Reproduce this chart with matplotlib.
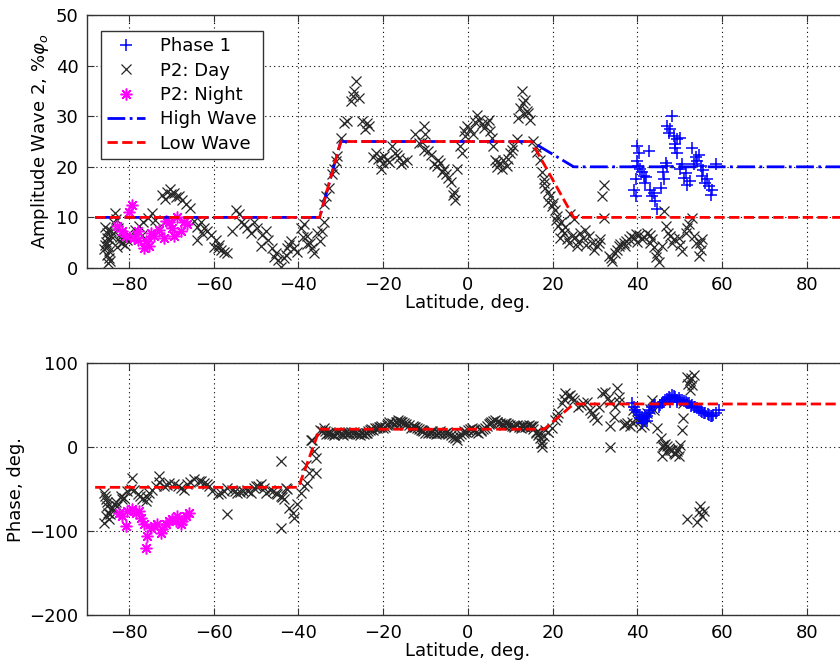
import numpy as np
import matplotlib.pyplot as plt

plt.rcParams['font.family'] = ['DejaVu Sans']
plt.rcParams['mathtext.fontset'] = 'dejavusans'

# ---- amplitude, P2 day-side fits (lat, %)
day_amp = [
    (-85.6, 8.2), (-85.3, 7.0), (-85.1, 6.0), (-85.4, 5.2), (-85.0, 4.3), (-84.8, 3.4),
    (-85.2, 2.6), (-84.7, 2.0), (-84.5, 1.4), (-85.8, 3.8), (-84.6, 5.6), (-84.3, 7.4),
    (-85.0, 7.6), (-84.9, 1.0), (-85.6, 4.6), (-84.2, 6.4), (-83.6, 8.8), (-82.4, 5.4),
    (-81.3, 6.0),
    (-83.2, 10.8), (-83.0, 9.6), (-82.6, 8.0), (-82.2, 6.2), (-81.6, 5.0), (-81.0, 4.6),
    (-80.5, 5.6), (-82.8, 4.2), (-81.9, 7.0), (-80.2, 6.8), (-79.8, 6.2),
    (-78.6, 7.6), (-77.6, 8.4), (-76.6, 9.0), (-75.6, 9.8), (-74.5, 10.8), (-73.8, 9.4),
    (-73.2, 8.0), (-77.0, 6.6),
    (-72.2, 14.4), (-71.4, 13.6), (-71.0, 15.0), (-70.4, 15.6), (-70.0, 14.6), (-69.4, 14.8),
    (-68.9, 14.0), (-68.1, 14.2), (-67.4, 13.4), (-66.6, 12.6), (-65.6, 11.8),
    (-64.7, 9.3), (-63.9, 5.6), (-63.1, 9.0), (-62.2, 8.0), (-61.5, 7.3), (-60.7, 6.6),
    (-59.5, 5.6), (-59.1, 3.9), (-58.8, 4.6), (-57.6, 3.2), (-56.8, 2.9),
    (-64.0, 8.2), (-62.8, 7.0), (-60.0, 4.2), (-58.2, 3.6),
    (-55.6, 7.3), (-54.8, 11.4), (-54.0, 10.7), (-53.6, 9.0), (-52.8, 8.6), (-52.1, 8.0),
    (-51.3, 7.0), (-50.5, 9.0), (-49.7, 8.0), (-48.9, 4.3), (-48.5, 6.6), (-47.7, 7.3),
    (-47.3, 5.6),
    (-46.2, 3.9), (-45.4, 2.9), (-44.8, 1.6), (-44.2, 0.2), (-43.4, 1.9), (-42.6, 3.9),
    (-41.8, 5.3), (-41.0, 3.9), (-40.3, 3.2), (-39.5, 8.0), (-38.7, 8.6), (-37.9, 6.3),
    (-37.2, 5.0), (-36.7, 3.9), (-36.3, 2.9), (-35.5, 7.0), (-34.4, 7.3), (-34.0, 9.0),
    (-45.8, 2.2), (-43.0, 2.6), (-42.2, 4.6), (-39.0, 6.2), (-38.0, 4.8), (-35.0, 5.4),
    (-34.0, 12.6), (-33.4, 14.2), (-32.8, 15.9), (-32.0, 18.5), (-31.6, 19.6), (-31.2, 21.1),
    (-30.8, 22.1), (-30.0, 25.7),
    (-29.3, 28.7), (-28.5, 29.0), (-27.7, 33.0), (-27.2, 34.0), (-26.9, 34.9), (-26.5, 36.9),
    (-25.7, 33.6), (-24.9, 29.0), (-24.2, 27.4), (-23.8, 28.7), (-23.4, 28.0),
    (-21.8, 22.8), (-21.2, 21.6), (-20.6, 21.8), (-20.6, 19.5), (-19.8, 22.1), (-19.1, 21.4),
    (-17.9, 24.1), (-17.2, 22.8), (-16.7, 22.4), (-15.9, 20.5), (-15.2, 21.0), (-14.4, 21.4),
    (-22.4, 22.0), (-20.0, 20.8), (-18.5, 21.0), (-16.2, 21.8),
    (-12.4, 26.4), (-11.6, 24.7), (-10.8, 25.0), (-10.4, 28.0), (-10.0, 26.4), (-10.4, 23.4),
    (-9.3, 23.1), (-8.6, 22.4), (-8.1, 20.5), (-7.3, 20.1), (-6.5, 20.8), (-6.0, 19.0),
    (-5.7, 19.5), (-4.6, 17.8), (-3.4, 14.5), (-3.2, 15.0), (-2.6, 19.5),
    (-7.0, 21.4), (-5.2, 18.6), (-4.0, 17.0), (-3.0, 13.5),
    (-1.8, 24.1), (-1.4, 22.8), (-1.0, 27.0), (-0.2, 28.0), (0.5, 27.4), (1.2, 26.5),
    (2.1, 30.3), (2.7, 29.2), (3.3, 28.4), (4.5, 28.7), (4.9, 29.3), (5.6, 25.7),
    (6.0, 24.1), (6.4, 21.4), (7.0, 20.0), (7.6, 20.8), (8.4, 21.4), (9.2, 20.1),
    (10.0, 22.8), (10.7, 24.1), (11.5, 25.4), (11.9, 29.7), (12.4, 31.6), (12.7, 34.9),
    (13.1, 32.6), (13.5, 33.3), (13.9, 31.0), (14.3, 30.7), (14.7, 29.3),
    (-0.6, 26.0), (1.6, 28.8), (3.8, 27.6), (5.2, 27.0), (6.8, 21.0), (8.0, 19.6),
    (9.6, 21.6), (10.4, 23.4), (13.3, 30.4),
    (15.5, 25.1), (16.3, 23.0), (17.1, 21.4), (17.5, 19.0), (17.9, 17.5), (18.3, 15.9),
    (18.9, 15.0), (19.0, 13.0), (19.4, 14.2), (20.2, 12.9), (20.6, 11.5), (21.0, 10.3),
    (21.4, 8.3), (21.8, 6.0), (22.0, 9.0), (22.6, 7.0), (23.0, 8.2), (23.4, 5.7),
    (24.2, 10.6), (24.6, 6.4), (25.0, 9.6), (25.8, 4.3), (26.0, 5.2), (26.5, 7.0),
    (27.2, 6.0), (27.7, 7.6), (28.0, 4.6), (28.5, 6.3), (29.3, 5.0), (30.5, 4.3),
    (31.3, 5.7), (31.7, 14.2), (32.1, 16.5), (32.1, 9.9), (33.3, 2.4), (34.0, 1.4),
    (34.8, 3.0), (35.6, 4.3), (36.0, 4.8), (36.8, 5.0), (37.4, 5.4), (38.0, 5.7),
    (38.6, 6.4), (39.2, 6.0), (40.0, 5.2), (40.4, 6.6), (41.1, 5.7), (41.6, 6.2),
    (42.3, 7.0), (42.9, 5.0), (43.5, 5.7), (44.0, 4.2), (44.7, 3.0), (45.1, 1.1),
    (45.9, 4.3), (46.3, 11.2), (46.7, 8.3), (47.8, 6.3), (48.6, 5.7), (49.8, 6.0),
    (50.6, 3.3), (51.4, 7.0), (52.2, 8.6), (53.0, 9.9), (53.8, 5.0), (54.6, 2.4),
    (54.9, 5.0), (55.3, 5.7),
    (16.0, 24.0), (18.0, 16.8), (19.8, 12.2), (20.8, 9.4), (22.3, 7.6), (24.0, 5.0),
    (25.4, 6.2), (29.8, 3.6), (30.9, 5.0), (33.8, 2.0), (35.2, 3.6), (37.0, 4.4),
    (39.6, 6.8), (43.0, 6.6), (44.4, 2.2), (47.2, 7.0), (48.2, 5.0), (50.0, 4.6),
    (51.8, 8.0), (53.4, 6.4), (55.0, 3.6),
]

# ---- amplitude, P2 night-side fits
night_amp = [
    (-79.2, 12.4), (-80.0, 11.0), (-82.8, 8.3), (-81.6, 7.3), (-80.8, 6.3), (-78.8, 5.9),
    (-78.0, 5.6), (-76.5, 3.9), (-76.1, 5.3), (-74.9, 7.0), (-74.1, 6.3), (-72.9, 7.6),
    (-71.7, 5.9), (-71.3, 9.3), (-70.6, 9.0), (-69.8, 8.0), (-69.4, 6.3), (-68.6, 10.0),
    (-67.8, 7.3), (-67.0, 9.0), (-66.2, 8.6), (-78.0, 7.3), (-75.3, 4.3),
]

# ---- amplitude, phase 1
p1_amp = [
    (40.0, 24.1), (40.4, 22.8), (40.0, 21.1), (40.7, 19.5), (39.6, 17.5), (39.2, 15.5),
    (39.6, 14.2), (42.7, 23.1), (41.5, 18.2), (41.9, 16.8), (43.1, 15.5), (43.5, 14.2),
    (44.3, 13.2), (44.7, 11.6), (45.5, 15.9), (46.3, 17.5), (47.1, 20.1), (46.7, 20.8),
    (47.1, 28.0), (48.2, 30.0), (47.4, 26.7), (48.6, 26.1), (49.4, 25.4), (50.2, 25.7),
    (49.0, 23.8), (49.4, 22.8), (50.2, 19.5), (51.0, 17.8), (51.8, 16.5), (51.4, 18.8),
    (53.0, 23.8), (53.4, 20.5), (54.6, 22.4), (54.2, 21.1), (55.3, 18.2), (56.1, 16.8),
    (56.9, 16.2), (57.7, 15.5), (57.3, 14.5), (58.5, 20.5), (55.0, 20.1),
    (40.2, 20.2), (41.2, 19.0), (42.0, 18.0), (44.0, 14.8), (46.0, 19.0), (47.8, 27.4),
    (48.8, 24.6), (50.6, 20.6), (52.4, 17.2), (53.8, 22.0), (55.6, 19.4), (56.4, 17.6),
]

# ---- phase, P2 day-side fits (lat, deg)
day_phase = [
    (-85.9, -54.5), (-85.5, -62.4), (-85.1, -70.3), (-85.5, -82.2), (-85.9, -90.0),
    (-84.7, -86.1), (-84.3, -74.3), (-83.5, -68.3), (-82.8, -70.3), (-82.0, -58.5),
    (-81.2, -60.4), (-80.4, -52.5), (-79.2, -36.7), (-78.8, -50.6), (-78.0, -56.5),
    (-85.7, -58.0), (-85.3, -66.0), (-85.0, -78.0), (-84.5, -80.0), (-84.0, -72.0),
    (-83.0, -66.0), (-81.6, -62.0),
    (-76.9, -62.4), (-76.1, -64.4), (-75.3, -54.5), (-74.5, -50.6), (-73.7, -46.6),
    (-72.9, -34.8), (-71.7, -46.6), (-70.6, -42.7), (-69.4, -44.6), (-67.8, -48.6),
    (-67.0, -50.6), (-66.2, -44.6), (-64.7, -38.7), (-63.5, -40.7), (-62.3, -42.7),
    (-61.1, -46.6), (-60.3, -52.5), (-59.1, -56.5), (-56.9, -80.2), (-56.8, -48.6),
    (-55.6, -50.6), (-54.4, -54.5), (-53.2, -52.5), (-52.1, -50.6), (-51.3, -54.5),
    (-50.1, -46.6), (-48.9, -44.6), (-47.7, -54.5), (-46.6, -50.6), (-45.4, -54.5),
    (-44.2, -58.5), (-43.4, -62.4), (-44.2, -17.0), (-44.2, -96.0), (-43.0, -48.6),
    (-79.6, -50.0), (-77.5, -58.0), (-75.8, -60.0), (-73.0, -42.0), (-71.0, -45.0),
    (-68.5, -46.0), (-65.5, -42.0), (-63.0, -41.0), (-61.6, -44.0), (-58.4, -55.0),
    (-57.5, -52.0), (-55.0, -52.0), (-53.8, -53.0), (-51.8, -52.0), (-50.6, -49.0),
    (-49.5, -47.0), (-48.2, -49.0), (-46.0, -52.0), (-45.0, -56.0), (-43.8, -60.0),
    (-42.6, -50.0),
    (-42.2, -72.3), (-41.4, -78.2), (-41.0, -84.1), (-40.3, -68.3), (-39.5, -54.5),
    (-38.7, -46.6), (-37.9, -42.7), (-37.5, -30.8), (-38.2, -20.9), (-37.1, 8.7),
    (-36.3, -5.1), (-35.9, -13.0), (-35.9, -30.7), (-36.7, 8.7),
    (-35.0, 20.0), (-34.0, 22.0), (-33.0, 17.0), (-32.0, 15.0), (-31.0, 16.0),
    (-30.0, 17.0), (-29.0, 16.0), (-28.0, 17.0), (-27.0, 16.0), (-26.0, 15.0),
    (-25.0, 16.0), (-24.0, 17.0), (-23.0, 20.0), (-22.0, 22.0), (-21.0, 24.0),
    (-20.0, 23.0), (-19.0, 26.0), (-18.0, 28.0), (-17.0, 30.0), (-16.0, 31.0),
    (-15.0, 28.0), (-14.0, 26.0), (-13.0, 25.0), (-12.0, 22.0), (-11.0, 20.0),
    (-10.0, 17.0), (-9.0, 18.0), (-8.0, 16.0), (-7.0, 17.0), (-6.0, 17.0),
    (-5.0, 18.0), (-4.0, 14.0), (-3.0, 10.0), (-2.0, 13.0), (-1.0, 16.0),
    (0.0, 20.0), (1.0, 22.0), (2.0, 18.0), (3.0, 19.0), (4.0, 22.0), (5.0, 27.0),
    (6.0, 31.0), (7.0, 29.0), (8.0, 27.0), (9.0, 28.0), (10.0, 26.0), (11.0, 24.0),
    (12.0, 24.0), (13.0, 25.0), (14.0, 25.0), (15.0, 24.0), (16.0, 18.0), (17.0, 10.0),
    (17.5, 0.0), (18.0, 13.0), (19.0, 18.0),
    (-34.5, 18.5), (-33.5, 15.5), (-32.5, 16.5), (-31.5, 14.5), (-30.5, 18.0),
    (-29.5, 14.5), (-28.5, 15.5), (-27.5, 18.0), (-26.5, 16.5), (-25.5, 14.0),
    (-24.5, 15.5), (-23.5, 18.5), (-22.5, 19.5), (-21.5, 22.5), (-20.5, 25.0),
    (-19.5, 24.0), (-18.5, 29.0), (-17.5, 27.0), (-16.5, 32.0), (-15.5, 29.5),
    (-14.5, 27.5), (-13.5, 23.0), (-12.5, 24.0), (-11.5, 21.0), (-10.5, 18.5),
    (-9.5, 16.0), (-8.5, 19.0), (-7.5, 15.0), (-6.5, 18.5), (-5.5, 16.0),
    (-4.5, 16.5), (-3.5, 12.0), (-2.5, 8.0), (-1.5, 15.0), (-0.5, 18.0),
    (0.5, 21.0), (1.5, 20.0), (2.5, 16.5), (3.5, 21.0), (4.5, 25.0), (5.5, 29.0),
    (6.5, 32.0), (7.5, 28.0), (8.5, 26.0), (9.5, 27.0), (10.5, 25.0), (11.5, 25.5),
    (12.5, 23.0), (13.5, 24.0), (14.5, 26.0), (15.5, 21.0), (16.5, 14.0), (17.2, 5.0),
    (-33.8, 18.5), (-32.8, 15.5), (-31.2, 17.5), (-29.8, 15.5), (-28.2, 16.5),
    (-26.8, 17.5), (-25.2, 16.5), (-23.8, 16.0), (-22.8, 21.0), (-20.8, 23.5),
    (-18.8, 27.0), (-16.8, 29.0), (-15.8, 30.0), (-14.8, 26.0), (-12.8, 23.5),
    (-10.8, 19.5), (-8.8, 17.0), (-6.8, 16.0), (-4.8, 15.5), (-2.8, 11.5),
    (-0.8, 19.0), (1.2, 19.5), (3.2, 20.0), (5.2, 28.5), (6.8, 30.0), (8.8, 28.5),
    (10.8, 24.5), (12.8, 24.5), (14.8, 24.5), (16.2, 16.0),
    (13.1, 26.3), (15.5, 24.3), (16.7, 16.5), (17.5, 4.7), (18.3, 20.4), (19.8, 22.3),
    (20.6, 32.1), (21.4, 40.0), (22.2, 51.7), (23.0, 63.5), (24.2, 61.5), (25.0, 55.7),
    (26.1, 47.8), (27.3, 51.7), (28.1, 53.7), (28.9, 43.9), (29.7, 36.1), (30.5, 32.1),
    (31.7, 63.5), (32.5, 65.5), (33.6, 53.7), (33.6, 24.3), (33.6, 0.0), (35.2, 69.4),
    (35.6, 59.6), (34.8, 47.8), (34.4, 36.1), (36.8, 26.3), (37.6, 28.2), (38.4, 24.3),
    (39.1, 43.9), (39.9, 36.1), (40.7, 30.2), (41.5, 26.3), (42.3, 40.0), (43.5, 55.7),
    (43.9, 43.9), (44.7, 22.3), (45.5, 10.6), (46.2, 2.7), (45.8, -11.0), (47.0, 0.8),
    (47.8, -3.1), (48.6, -7.1), (49.4, -5.1), (49.8, -11.0), (50.2, 2.7), (50.6, 20.4),
    (50.9, 34.1), (51.7, 83.1), (52.5, 79.2), (53.3, 85.1), (52.5, 67.4), (50.9, 51.7),
    (51.7, -85.5), (54.5, -77.6), (54.9, -69.8), (55.3, -81.5), (54.1, -89.4), (55.7, -75.7),
    (21.0, 36.0), (22.6, 57.0), (23.6, 60.0), (24.6, 58.0), (26.8, 50.0), (29.3, 40.0),
    (31.0, 48.0), (33.0, 58.0), (35.8, 53.0), (37.0, 27.0), (38.8, 30.0), (40.0, 32.0),
    (41.0, 24.0), (42.0, 34.0), (43.0, 45.0),
    (46.0, 0.0), (46.8, -6.0), (47.4, -1.0), (48.2, -4.0), (48.9, -9.0), (49.6, -2.0),
    (46.6, 4.0), (52.0, 75.0), (52.8, 82.0), (53.0, 73.0),
]

# ---- phase, P2 night-side fits
night_phase = [
    (-82.4, -78.2), (-81.6, -82.2), (-80.8, -94.0), (-80.4, -76.2), (-79.2, -74.3),
    (-78.4, -78.2), (-77.6, -76.2), (-77.2, -84.1), (-76.5, -92.0), (-75.7, -105.9),
    (-76.1, -119.7), (-74.9, -96.0), (-74.1, -94.0), (-73.3, -92.0), (-72.5, -101.9),
    (-72.1, -98.0), (-71.3, -92.0), (-70.6, -88.1), (-69.8, -86.1), (-69.0, -88.1),
    (-68.6, -82.2), (-67.8, -92.0), (-67.4, -88.1), (-66.6, -82.2), (-65.8, -78.2),
]

# ---- phase, phase 1
p1_phase = [
    (38.8, 51.7), (39.5, 43.9), (40.3, 38.0), (41.1, 34.1), (41.9, 36.1), (42.7, 40.0),
    (43.5, 47.8), (44.3, 49.8), (45.1, 47.8), (45.8, 51.7), (46.6, 55.7), (47.4, 59.6),
    (48.2, 61.5), (49.0, 59.6), (49.8, 57.6), (50.6, 55.7), (51.4, 53.7), (52.2, 51.7),
    (53.0, 49.8), (53.7, 47.8), (54.5, 43.9), (55.3, 42.0), (56.1, 40.0), (56.9, 38.0),
    (57.7, 36.8), (58.5, 40.0), (59.2, 43.9), (41.1, 28.2), (42.3, 30.2), (47.8, 53.7),
    (49.4, 53.7),
    (39.2, 48.0), (40.0, 41.0), (40.6, 34.0), (41.6, 33.0), (42.4, 37.0), (43.0, 44.0),
    (44.0, 50.0), (45.4, 50.0), (46.2, 53.0), (47.0, 57.0), (47.8, 58.0), (48.6, 60.0),
    (49.4, 56.0), (50.2, 56.0), (51.0, 54.0), (51.8, 52.0), (52.6, 49.0), (53.4, 48.0),
    (54.2, 46.0), (55.0, 43.0), (55.8, 40.0), (56.6, 39.0), (57.4, 37.0), (58.0, 38.0),
]

# ---- model waves (breakpoints)
high_amp_lat = [-88, -35, -30, 15, 25, 90]
high_amp = [10, 10, 25, 25, 20, 20]
low_amp_lat = [-88, -35, -30, 15, 25, 90]
low_amp = [10, 10, 25, 25, 10, 10]
low_phase_lat = [-88, -40, -35, 18, 25, 90]
low_phase = [-48, -48, 21, 21, 51, 51]


def pts(lst):
    a = np.array(lst)
    return a[:, 0], a[:, 1]


fig = plt.figure(figsize=(8.4, 6.68), dpi=100)
ax1 = fig.add_axes([0.1032, 0.5988, 0.9075, 0.3787])
ax2 = fig.add_axes([0.1032, 0.0789, 0.9075, 0.3781])

mk = dict(linestyle='none')
asterisk = (8, 2, 0)   # MATLAB-style '*'

# top: amplitude
x, y = pts(p1_amp)
ax1.plot(x, y, '+', color='#0000ff', ms=9, mew=1.1, label='Phase 1', **mk)
x, y = pts(day_amp)
ax1.plot(x, y, 'x', color='#262626', ms=6.5, mew=0.9, label='P2: Day', **mk)
x, y = pts(night_amp)
ax1.plot(x, y, marker=asterisk, color='#ff00ff', ms=8.5, mew=1.1, label='P2: Night', **mk)
ax1.plot(high_amp_lat, high_amp, '-.', color='#0000ff', lw=2, label='High Wave')
ax1.plot(low_amp_lat, low_amp, '--', color='#ff0000', lw=2, label='Low Wave')

# bottom: phase
x, y = pts(day_phase)
ax2.plot(x, y, 'x', color='#262626', ms=6.5, mew=0.9, **mk)
x, y = pts(night_phase)
ax2.plot(x, y, marker=asterisk, color='#ff00ff', ms=8.5, mew=1.1, **mk)
x, y = pts(p1_phase)
ax2.plot(x, y, '+', color='#0000ff', ms=9, mew=1.1, **mk)
ax2.plot(low_phase_lat, low_phase, '--', color='#ff0000', lw=2)

for ax in (ax1, ax2):
    ax.set_xlim(-90, 90)
    ax.set_xticks(np.arange(-80, 81, 20))
    ax.grid(True, color='k', linestyle=(0, (1, 3)), linewidth=0.8)
    ax.tick_params(direction='in', length=5, top=True, right=True,
                   labelsize=13, pad=6, color='#333333')
    for s in ax.spines.values():
        s.set_color('#333333')
        s.set_linewidth(1)
    ax.set_xlabel('Latitude, deg.', fontsize=13, labelpad=0)

ax1.set_ylim(0, 50)
ax1.set_yticks(np.arange(0, 51, 10))
ax1.set_ylabel('Amplitude Wave 2, %$\\varphi_o$', fontsize=13, labelpad=3)
ax2.set_ylim(-200, 100)
ax2.set_yticks([-200, -100, 0, 100])
ax2.set_ylabel('Phase, deg.', fontsize=13, labelpad=3)

leg = ax1.legend(loc='upper left', bbox_to_anchor=(0.0188, 0.937), fontsize=13,
                 handlelength=2.1, labelspacing=0.35, borderpad=0.35,
                 handletextpad=0.8, fancybox=False, framealpha=1,
                 borderaxespad=0)
leg.get_frame().set_edgecolor('#333333')
leg.get_frame().set_linewidth(1)

fig.savefig('out.png', dpi=100)
